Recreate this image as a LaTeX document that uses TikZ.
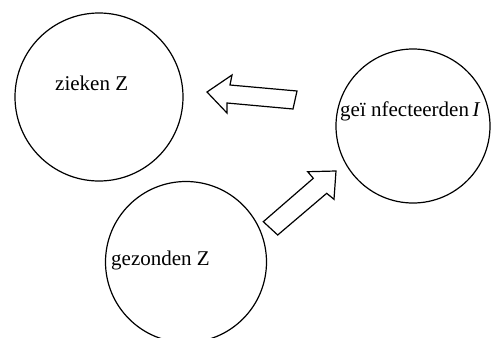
\documentclass[tikz,border=0pt]{standalone}
\usepackage{fontspec}
\setmainfont{Liberation Serif}
\begin{document}
\begin{tikzpicture}[x=1pt,y=-1pt,
  compartment/.style={draw,circle,line width=1.2pt,inner sep=0pt},
  lbl/.style={anchor=base west,inner sep=0pt,font=\fontsize{21}{24}\selectfont},
  flow/.style={draw,line width=1.2pt,line join=miter,fill=white}]
\useasboundingbox (0,0) rectangle (491,338);
% compartments
\node[compartment,minimum size=168pt] (sick) at (99,97) {};
\node[compartment,minimum size=154pt] (inf) at (413,126) {};
\node[compartment,minimum size=161pt] (healthy) at (186,262) {};
% labels
\node[lbl] (lsick) at (55,90) {zieken Z};
\node[lbl] (linf) at (340,116) {geï\ nfecteerden\,\textit{I}};
\node[lbl] (lhealthy) at (111,265) {gezonden Z};
% block arrows
\draw[flow] (207,92) -- (232,75) -- (230,85) -- (297,91) -- (293,109)
  -- (227,103) -- (227,113) -- cycle;
\draw[flow] (336,171) -- (307.7,171.7) -- (313.3,178.3) -- (263.3,221.7)
  -- (277.7,235) -- (326.7,193.3) -- (334,199.3) -- cycle;
\end{tikzpicture}
\end{document}
